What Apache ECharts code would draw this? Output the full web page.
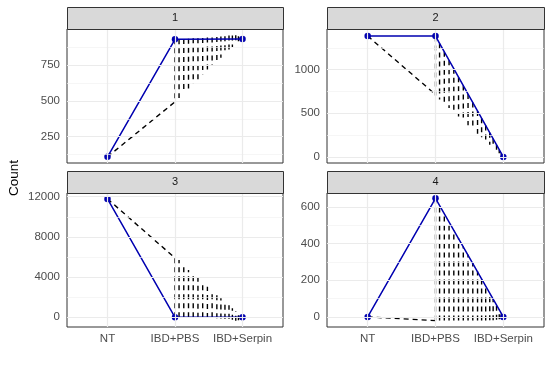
<!DOCTYPE html>
<html><head><meta charset="utf-8">
<script src="https://cdn.jsdelivr.net/npm/echarts@6/dist/echarts.min.js"></script>
<style>html,body{margin:0;padding:0;background:#fff}#c{width:552px;height:369px}</style>
</head><body><div id="c"></div>
<script>
// ---- data ----
const categories = ['NT', 'IBD+PBS', 'IBD+Serpin'];
const panelNames = ['1', '2', '3', '4'];
// blue (solid) line values at NT, IBD+PBS, IBD+Serpin
const blue1 = [110, 928, 930];
const blue2 = [1385, 1385, 0];
const blue3 = [11780, 0, 0];
const blue4 = [0, 648, 0];
// dashed lead segment: value at NT and value reached at IBD+PBS
const lead1 = [110, 493];
const lead2 = [1385, 715];
const lead3 = [11780, 5900];
const lead4 = [0, -20];
// dashed columns between IBD+PBS and IBD+Serpin: offset past IBD+PBS
const colPos = [0, 0.06, 0.13, 0.2, 0.27, 0.34, 0.41, 0.48, 0.55, 0.62, 0.68, 0.74, 0.8, 0.85, 0.9, 0.94, 0.97];
// column start / end values
const colStart1 = [928, 928, 930, 932, 935, 935, 938, 940, 940, 945, 948, 950, 955, 955, 957, 950, 945];
const colEnd1   = [493, 520, 555, 585, 620, 650, 685, 715, 745, 775, 800, 830, 855, 875, 900, 915, 925];
const colStart2 = [1380, 1300, 1205, 1108, 1011, 914, 817, 720, 623, 526, 443, 360, 277, 208, 138, 83, 42];
const colEnd2   = [700, 658, 609, 560, 511, 462, 413, 364, 315, 266, 224, 182, 140, 105, 70, 42, 21];
const colStart3 = [0, 0, 0, 0, 0, -50, 0, -80, 0, -100, -120, -150, -150, -250, -350, -300, -200];
const colEnd3   = [5870, 5700, 5100, 4700, 4300, 3900, 3450, 3050, 2650, 2250, 1900, 1550, 1200, 900, 600, 350, 180];
const colStart4 = [-20, -20, -20, -20, -20, -20, -20, -20, -20, -20, -20, -20, -18, -18, -15, -12, -8];
const colEnd4   = [645, 610, 565, 520, 475, 430, 385, 340, 295, 250, 210, 170, 130, 98, 65, 40, 20];
// y ticks
const major1 = [250, 500, 750],  minor1 = [125, 375, 625, 875];
const major2 = [0, 500, 1000],   minor2 = [250, 750, 1250];
const major3 = [0, 4000, 8000, 12000], minor3 = [2000, 6000, 10000];
const major4 = [0, 200, 400, 600], minor4 = [100, 300, 500];
const yRange1 = [67, 1000], yRange2 = [-70, 1466], yRange3 = [-965, 12368], yRange4 = [-55, 677];

// ---- build ----
const panels = [
  {blue: blue1, lead: lead1, cs: colStart1, ce: colEnd1, major: major1, minor: minor1, yr: yRange1},
  {blue: blue2, lead: lead2, cs: colStart2, ce: colEnd2, major: major2, minor: minor2, yr: yRange2},
  {blue: blue3, lead: lead3, cs: colStart3, ce: colEnd3, major: major3, minor: minor3, yr: yRange3},
  {blue: blue4, lead: lead4, cs: colStart4, ce: colEnd4, major: major4, minor: minor4, yr: yRange4}
];
const boxes = [
  {left: 67, top: 29, width: 216, height: 134},
  {left: 327, top: 29, width: 217, height: 134},
  {left: 67, top: 193, width: 216, height: 134},
  {left: 327, top: 193, width: 217, height: 134}
];
const FONT = 'Liberation Sans, Arial, Helvetica, sans-serif';
const DASH = {color: '#000', width: 1.4, type: [5, 4]};
const BLUE = '#0000b0';
const grids = [], xAxes = [], yAxes = [], series = [], graphics = [];
panels.forEach((p, i) => {
  const b = boxes[i];
  grids.push({left: b.left, top: b.top, width: b.width, height: b.height, show: true,
    backgroundColor: '#fff', borderColor: '#333333', borderWidth: 1});
  const bottomRow = i >= 2;
  xAxes.push({type: 'value', gridIndex: i, min: -0.6, max: 2.6,
    axisLine: {show: false}, splitLine: {show: false},
    axisTick: {show: bottomRow, customValues: [0, 1, 2], length: 4, lineStyle: {color: '#333333', type: 'solid'}},
    axisLabel: {show: bottomRow, customValues: [0, 1, 2], margin: 6, color: '#4d4d4d', fontSize: 11.5, fontFamily: FONT,
      formatter: v => categories[Math.round(v)]}
  });
  yAxes.push({type: 'value', gridIndex: i, min: p.yr[0], max: p.yr[1],
    axisLine: {show: false}, splitLine: {show: false},
    axisTick: {show: true, customValues: p.major, length: 4, lineStyle: {color: '#333333', type: 'solid'}},
    axisLabel: {customValues: p.major, margin: 7, color: '#4d4d4d', fontSize: 11.5, fontFamily: FONT,
      formatter: v => String(Math.round(v))}
  });
  const ml = [];
  p.minor.forEach(v => ml.push({yAxis: v, lineStyle: {color: '#f2f2f2', width: 0.7, type: 'solid'}}));
  p.major.forEach(v => ml.push({yAxis: v, lineStyle: {color: '#ebebeb', width: 1.2, type: 'solid'}}));
  [0, 1, 2].forEach(v => ml.push({xAxis: v, lineStyle: {color: '#ebebeb', width: 1.2, type: 'solid'}}));
  series.push({type: 'line', xAxisIndex: i, yAxisIndex: i, z: 1, silent: true,
    data: [[0, p.yr[0]]], symbol: 'none', lineStyle: {opacity: 0},
    markLine: {silent: true, symbol: 'none', animation: false, label: {show: false}, data: ml}});
  series.push({type: 'line', xAxisIndex: i, yAxisIndex: i, z: 2, silent: true, symbol: 'none',
    data: [[0, p.lead[0]], [1, p.lead[1]]], lineStyle: DASH});
  colPos.forEach((t, k) => series.push({type: 'line', xAxisIndex: i, yAxisIndex: i, z: 2, silent: true,
    symbol: 'none', data: [[1 + t, p.cs[k]], [1 + t, p.ce[k]]], lineStyle: DASH}));
  series.push({type: 'line', xAxisIndex: i, yAxisIndex: i, z: 3, silent: true,
    data: p.blue.map((v, k) => [k, v]), symbol: 'none', showSymbol: false,
    lineStyle: {color: BLUE, width: 1.5, type: 'solid', cap: 'round', join: 'round'}});
  series.push({type: 'scatter', xAxisIndex: i, yAxisIndex: i, z: 4, silent: true,
    data: p.blue.map((v, k) => [k, v]), symbol: 'circle', symbolSize: 6.5,
    itemStyle: {color: BLUE, borderWidth: 0, opacity: 1}});
  graphics.push({type: 'rect', left: b.left, top: b.top - 22, z: 10,
    shape: {width: b.width, height: 22}, style: {fill: '#d9d9d9', stroke: '#333333', lineWidth: 1}});
  graphics.push({type: 'text', x: b.left + b.width / 2, y: b.top - 11, z: 11,
    style: {text: panelNames[i], fill: '#1a1a1a', font: '11px ' + FONT, textAlign: 'center', textVerticalAlign: 'middle'}});
});
graphics.push({type: 'text', x: 14, y: 178, rotation: Math.PI / 2, z: 11,
  style: {text: 'Count', fill: '#000', font: '13.5px ' + FONT, textAlign: 'center', textVerticalAlign: 'middle'}});

const chart = echarts.init(document.getElementById('c'), null, {renderer: 'canvas'});
chart.setOption({animation: false, grid: grids, xAxis: xAxes, yAxis: yAxes, series: series, graphic: graphics});
</script></body></html>
